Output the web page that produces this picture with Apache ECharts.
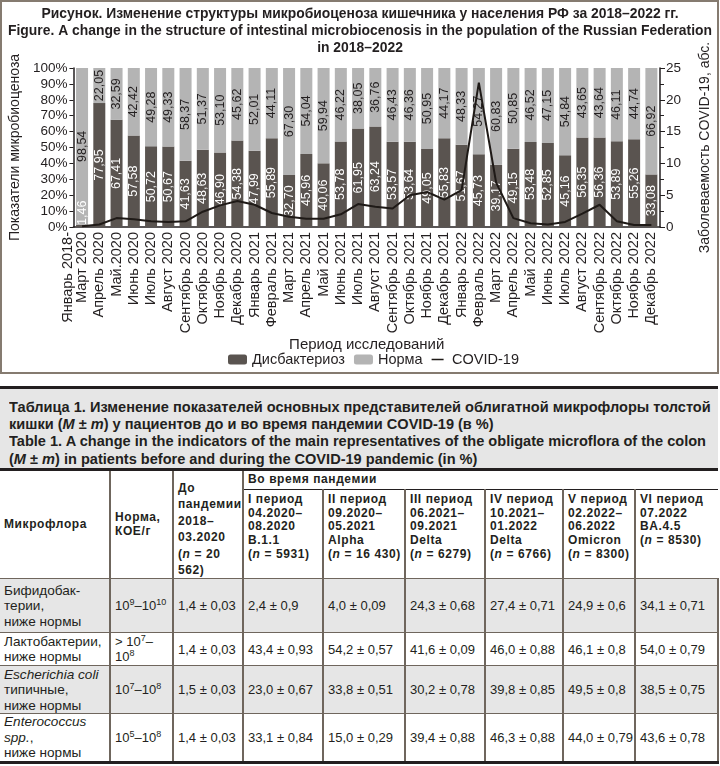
<!DOCTYPE html>
<html>
<head>
<meta charset="utf-8">
<script src="https://cdn.jsdelivr.net/npm/echarts@6/dist/echarts.min.js"></script>
<style>
  html, body { margin: 0; padding: 0; background: #fff; }
  #page { position: relative; width: 720px; height: 766px; overflow: hidden; font-family: 'Liberation Sans', Arial, sans-serif; color: #231f20; }
  #chart { position: absolute; left: 0; top: 0; width: 720px; height: 376px; }
  #cap { position: absolute; left: 0; top: 386px; width: 718px; height: 82px; border-top: 3px solid #231f20; background: #e6e6e6;
         font-weight: bold; font-size: 15px; line-height: 17.2px; padding: 9px 0 0 9px; box-sizing: border-box; }
  #cap .ln { display: block; white-space: nowrap; transform-origin: 0 0; width: max-content; }
  #tbl { position: absolute; left: 0; top: 468px; width: 718px; border-collapse: collapse; table-layout: fixed; }
  #tbl td, #tbl th { padding: 0 2px 0 4px; vertical-align: middle; text-align: left; white-space: nowrap; overflow: hidden; }
  #tbl thead tr:first-child th { border-top: 3px solid #231f20; }
  #tbl th { font-weight: bold; font-size: 12px; letter-spacing: 0.6px; line-height: 13.6px; }
  #tbl td { font-size: 13px; line-height: 15.5px; }
  #tbl td:first-child { font-size: 13.6px; }
  #tbl .vb { border-left: 2px solid #6f665d; }
  #tbl tbody tr td { border-top: 1px solid #6f665d; }
  #tbl tbody tr:last-child td { border-bottom: 3px solid #231f20; }
  #tbl tbody tr.g td { background: #e6e6e6; }
  #tbl td:last-child { border-right: 2px solid #6f665d; }
  sup { font-size: 9px; line-height: 0; vertical-align: 5px; }
</style>
</head>
<body>
<div id="page">
  <div id="chart"></div>
  <div id="cap"></div>
  <table id="tbl"></table>
</div>
<script>
// ---------- chart data ----------
const categories = ['Январь 2018-\nМарт 2020','Апрель 2020','Май.2020','Июнь 2020','Июль 2020','Август 2020','Сентябрь 2020','Октябрь 2020','Ноябрь 2020','Декабрь 2020',
  'Январь 2021','Февраль 2021','Март 2021','Апрель 2021','Май 2021','Июнь 2021','Июль 2021','Август 2021','Сентябрь 2021','Октябрь 2021','Ноябрь 2021','Декабрь 2021',
  'Январь 2022','Февраль 2022','Март 2022','Апрель 2022','Май 2022','Июнь 2022','Июль 2022','Август 2022','Сентябрь 2022','Октябрь 2022','Ноябрь 2022','Декабрь 2022'];
const dysbacteriosis = [1.46,77.95,67.41,57.58,50.72,50.67,41.63,48.63,46.90,54.38,
  47.99,55.89,32.70,45.96,40.06,53.78,61.95,63.24,53.57,53.64,49.05,55.83,
  51.67,45.73,39.17,49.15,53.48,52.85,45.16,56.35,56.36,53.89,55.26,33.08];
const norma = [98.54,22.05,32.59,42.42,49.28,49.33,58.37,51.37,53.10,45.62,
  52.01,44.11,67.30,54.04,59.94,46.22,38.05,36.76,46.43,46.36,50.95,44.17,
  48.33,54.27,60.83,50.85,46.52,47.15,54.84,43.65,43.64,46.11,44.74,66.92];
const covid = [0.1,0.4,1.4,1.2,0.9,0.8,0.9,2.4,3.4,4.1,
  3.5,2.2,1.6,1.3,1.3,2.0,3.6,3.2,2.9,5.0,5.5,4.3,
  5.8,22.7,7.0,1.4,0.6,0.4,0.8,2.1,3.5,0.9,0.3,0.3];
const leftTicks = [0,100,10];
const rightTicks = [0,25,5];
const seriesNames = ['Дисбактериоз','Норма','COVID-19'];
const titleLines = ['Рисунок. Изменение структуры микробиоценоза кишечника у населения РФ за 2018–2022 гг.',
  'Figure. A change in the structure of intestinal microbiocenosis in the population of the Russian Federation',
  'in 2018–2022'];

// ---------- table data ----------
const captionLines = ['Таблица 1. Изменение показателей основных представителей облигатной микрофлоры толстой',
  'кишки (<i>M</i> ± <i>m</i>) у пациентов до и во время пандемии COVID-19 (в %)',
  'Table 1. A change in the indicators of the main representatives of the obligate microflora of the colon',
  '(<i>M</i> ± <i>m</i>) in patients before and during the COVID-19 pandemic (in %)'];
const colWidths = [110,63,70,80,82,80,78,72,83];
const headMain = ['Микрофлора','Норма,<br>КОЕ/г','До<br>пандемии<br>2018–<br>03.2020<br>(<i>n</i> = 20<br>562)'];
const headGroup = 'Во время пандемии';
const headPeriods = ['I период<br>04.2020–<br>08.2020<br>B.1.1<br>(<i>n</i> = 5931)',
  'II период<br>09.2020–<br>05.2021<br>Alpha<br>(<i>n</i> = 16 430)',
  'III период<br>06.2021–<br>09.2021<br>Delta<br>(<i>n</i> = 6279)',
  'IV период<br>10.2021–<br>01.2022<br>Delta<br>(<i>n</i> = 6766)',
  'V период<br>02.2022–<br>06.2022<br>Omicron<br>(<i>n</i> = 8300)',
  'VI период<br>07.2022<br>BA.4.5<br>(<i>n</i> = 8530)'];
const microflora = ['Бифидобак-<br>терии,<br>ниже нормы','Лактобактерии,<br>ниже нормы','<i>Escherichia coli</i><br>типичные,<br>ниже нормы','<i>Enterococcus<br>spp.</i>,<br>ниже нормы'];
const normRanges = ['10<sup>9</sup>–10<sup>10</sup>','&gt; 10<sup>7</sup>–<br>10<sup>8</sup>','10<sup>7</sup>–10<sup>8</sup>','10<sup>5</sup>–10<sup>8</sup>'];
const beforePandemic = ['1,4 ± 0,03','1,4 ± 0,03','1,5 ± 0,03','1,4 ± 0,03'];
const period1 = ['2,4 ± 0,9','43,4 ± 0,93','23,0 ± 0,67','33,1 ± 0,84'];
const period2 = ['4,0 ± 0,09','54,2 ± 0,57','33,8 ± 0,51','15,0 ± 0,29'];
const period3 = ['24,3 ± 0,68','41,6 ± 0,09','30,2 ± 0,78','39,4 ± 0,88'];
const period4 = ['27,4 ± 0,71','46,0 ± 0,88','39,8 ± 0,85','46,3 ± 0,88'];
const period5 = ['24,9 ± 0,6','46,1 ± 0,8','49,5 ± 0,8','44,0 ± 0,79'];
const period6 = ['34,1 ± 0,71','54,0 ± 0,79','38,5 ± 0,75','43,6 ± 0,78'];
const rowHeights = [54, 33, 48, 48];

// ---------- helpers ----------
const TXT = '#231f20';
const BASE_FONT = "'Liberation Sans', Arial, sans-serif";
const measureCtx = document.createElement('canvas').getContext('2d');
function textWidth(t, font) { measureCtx.font = font; return measureCtx.measureText(t).width; }
const fmt = v => (typeof v === 'object' ? v.value : v).toFixed(2).replace('.', ',');

// ---------- chart ----------
const titleFont = 'bold 15.5px ' + BASE_FONT;
const titleScale = Math.min(1, 704 / textWidth(titleLines[1], titleFont));
const titleGraphics = titleLines.map((t, i) => ({
  type: 'text', x: 360, y: 14 + i * 17, scaleX: titleScale, silent: true,
  style: {text: t, font: titleFont, fill: TXT, align: 'center', verticalAlign: 'middle'}
}));

const chart = echarts.init(document.getElementById('chart'), null, {renderer: 'canvas'});
const dysData = dysbacteriosis.map((v, i) => i === 0
  ? {value: v, label: {position: 'insideBottom', align: 'left', verticalAlign: 'middle', distance: 2}}
  : v);
const lineIcon = 'path://M0,4.2h12v1.6h-12z M0,0h0.01v0.01h-0.01z M0,10h0.01v0.01h-0.01z';
chart.setOption({
  backgroundColor: '#fff',
  animation: false,
  textStyle: {fontFamily: BASE_FONT, color: TXT},
  graphic: [{type: 'rect', shape: {x: 1, y: 1, width: 717, height: 372}, style: {fill: 'none', stroke: '#857b70', lineWidth: 2}, silent: true}].concat(titleGraphics),
  legend: {
    bottom: 4, left: 223, itemWidth: 19, itemHeight: 10, itemGap: 9,
    textStyle: {fontSize: 14.5, color: TXT},
    data: [{name: seriesNames[0]}, {name: seriesNames[1]}, {name: seriesNames[2], icon: lineIcon}]
  },
  grid: {left: 69, right: 55, top: 68, bottom: 149},
  xAxis: {
    type: 'category', data: categories,
    name: 'Период исследований', nameLocation: 'middle', nameGap: 103,
    nameTextStyle: {fontSize: 15, color: TXT},
    axisLine: {lineStyle: {color: TXT, width: 1.5}},
    axisTick: {show: false},
    axisLabel: {
      rotate: 90, interval: 0, fontSize: 14.5, lineHeight: 14, margin: 5, color: TXT,
      formatter: v => v.indexOf('\n') >= 0 ? v + '\n' : v
    }
  },
  yAxis: [{
    type: 'value', min: leftTicks[0], max: leftTicks[1], interval: leftTicks[2],
    name: 'Показатели микробиоценоза', nameLocation: 'middle', nameGap: 50,
    nameTextStyle: {fontSize: 14, color: TXT},
    axisLine: {show: true, lineStyle: {color: TXT, width: 1.5}},
    axisTick: {show: true, length: 4, lineStyle: {color: TXT}},
    axisLabel: {formatter: '{value}%', fontSize: 13.5, margin: 6, color: TXT},
    splitLine: {show: false}
  }, {
    type: 'value', min: rightTicks[0], max: rightTicks[1], interval: rightTicks[2], position: 'right',
    name: 'Заболеваемость COVID-19, абс.', nameLocation: 'middle', nameGap: 38, nameRotate: 90,
    nameTextStyle: {fontSize: 14, color: TXT},
    axisLine: {show: true, lineStyle: {color: TXT, width: 1.5}},
    axisTick: {show: true, length: 5, lineStyle: {color: TXT}},
    minorTick: {show: true, splitNumber: 2, length: 4, lineStyle: {color: TXT}},
    axisLabel: {fontSize: 13.5, margin: 6, color: TXT},
    splitLine: {show: false}
  }],
  series: [{
    name: seriesNames[0], type: 'bar', stack: 'm', barWidth: 12, data: dysData,
    itemStyle: {color: '#5a5450'},
    label: {show: true, position: 'inside', rotate: 90, fontSize: 12.5, color: '#fff', formatter: p => fmt(p.value)}
  }, {
    name: seriesNames[1], type: 'bar', stack: 'm', barWidth: 12, data: norma,
    itemStyle: {color: '#b4b4b4'},
    label: {show: true, position: 'inside', rotate: 90, fontSize: 12.5, color: TXT, formatter: p => fmt(p.value)}
  }, {
    name: seriesNames[2], type: 'line', yAxisIndex: 1, data: covid, symbol: 'none', z: 5,
    lineStyle: {color: '#1f1a17', width: 2}, itemStyle: {color: '#1f1a17'}
  }]
});

// ---------- caption ----------
const cap = document.getElementById('cap');
cap.innerHTML = captionLines.map(t => `<span class="ln">${t}</span>`).join('');
const capSpans = cap.querySelectorAll('.ln');
const capScale = Math.min(1, 697 / capSpans[2].getBoundingClientRect().width);
capSpans.forEach(s => { s.style.transform = `scaleX(${capScale})`; });

// ---------- table ----------
const periods = [period1, period2, period3, period4, period5, period6];
let h = '<colgroup>' + colWidths.map(w => `<col style="width:${w}px">`).join('') + '</colgroup>';
h += '<thead><tr style="height:19px">';
h += `<th rowspan="2" style="vertical-align:middle">${headMain[0]}</th>`;
h += `<th rowspan="2" class="vb" style="vertical-align:middle">${headMain[1]}</th>`;
h += `<th rowspan="2" class="vb" style="vertical-align:top;padding-top:9px;line-height:16.4px">${headMain[2]}</th>`;
h += `<th colspan="6" class="vb" style="border-bottom:1px solid #231f20">${headGroup}</th></tr>`;
h += '<tr style="height:84px">' + headPeriods.map(t => `<th class="vb" style="vertical-align:top;padding-top:3px">${t}</th>`).join('') + '</tr></thead><tbody>';
microflora.forEach((m, r) => {
  h += `<tr class="${r % 2 === 0 ? 'g' : ''}" style="height:${rowHeights[r]}px">`;
  h += `<td>${m}</td><td class="vb">${normRanges[r]}</td><td class="vb">${beforePandemic[r]}</td>`;
  periods.forEach(p => { h += `<td class="vb">${p[r]}</td>`; });
  h += '</tr>';
});
h += '</tbody>';
document.getElementById('tbl').innerHTML = h;
</script>
</body>
</html>
